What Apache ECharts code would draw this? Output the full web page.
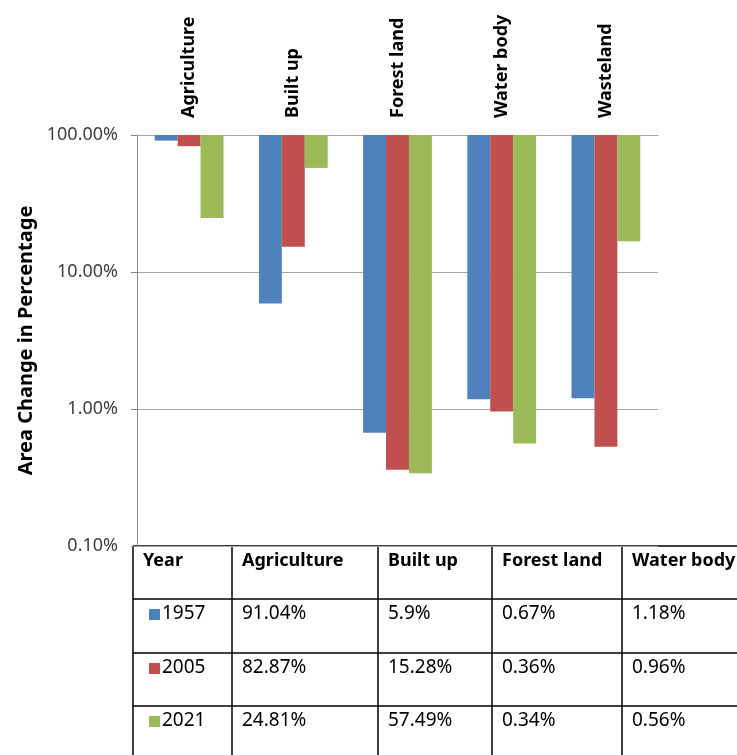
<!DOCTYPE html>
<html>
<head>
<meta charset="utf-8">
<script src="https://cdn.jsdelivr.net/npm/echarts@6/dist/echarts.min.js"></script>
<style>
  html, body { margin: 0; padding: 0; background: #fff; }
  #chart { width: 737px; height: 755px; }
</style>
</head>
<body>
<div id="chart"></div>
<script>
// land use classes
const categories = ["Agriculture", "Built up", "Forest land", "Water body", "Wasteland"];
const years = ["1957", "2005", "2021"];
// area share (%) per year
const y1957 = [91.04, 5.9, 0.67, 1.18, 1.2];
const y2005 = [82.87, 15.28, 0.36, 0.96, 0.53];
const y2021 = [24.81, 57.49, 0.34, 0.56, 16.8];
const yTicks = [0.1, 1, 10, 100];

const colors = ["#4F81BD", "#C0504D", "#9BBB59"];
const seriesData = [y1957, y2005, y2021];
const font = "Noto Sans";

// data table under the plot (column edges / row edges)
const colX = [133, 232, 378, 492, 622, 760, 900];
const rowY = [546, 599, 653, 706, 770];

function tableGraphics() {
  const els = [];
  const lineStyle = { stroke: "#000", lineWidth: 1.5 };
  rowY.forEach((y) => {
    els.push({ type: "line", shape: { x1: colX[0], y1: y, x2: colX[colX.length - 1], y2: y }, style: lineStyle });
  });
  colX.forEach((x) => {
    els.push({ type: "line", shape: { x1: x, y1: rowY[0], x2: x, y2: rowY[rowY.length - 1] }, style: lineStyle });
  });
  // header
  const header = ["Year"].concat(categories);
  header.forEach((h, i) => {
    els.push({
      type: "text", x: colX[i] + 10, y: rowY[0] + 15,
      style: { text: h, fontFamily: font, fontSize: 18, fontWeight: "bold", fill: "#000", verticalAlign: "middle" }
    });
  });
  // rows
  years.forEach((yr, r) => {
    const cy = rowY[r + 1] + 15;
    els.push({ type: "rect", shape: { x: colX[0] + 16, y: cy - 5, width: 11, height: 11 }, style: { fill: colors[r] } });
    els.push({
      type: "text", x: colX[0] + 29, y: cy,
      style: { text: yr, fontFamily: font, fontSize: 19, fill: "#000", verticalAlign: "middle" }
    });
    seriesData[r].forEach((v, c) => {
      els.push({
        type: "text", x: colX[c + 1] + 10, y: cy,
        style: { text: String(v) + "%", fontFamily: font, fontSize: 19, fill: "#000", verticalAlign: "middle" }
      });
    });
  });
  return els;
}

const chart = echarts.init(document.getElementById("chart"), null, { renderer: "canvas" });
const option = {
  animation: false,
  backgroundColor: "#fff",
  grid: { left: 137, right: 79, top: 135, bottom: 209 },
  xAxis: {
    type: "category",
    position: "top",
    data: categories,
    axisLine: { show: true, lineStyle: { color: "#a6a6a6", width: 1 } },
    axisTick: { show: false },
    axisLabel: {
      rotate: -90,
      margin: 17,
      fontFamily: font,
      fontSize: 18,
      fontWeight: "bold",
      color: "#000",
      interval: 0
    }
  },
  yAxis: {
    type: "log",
    logBase: 10,
    min: yTicks[0],
    max: yTicks[yTicks.length - 1],
    startValue: 100,
    name: "Area Change in Percentage",
    nameLocation: "middle",
    nameGap: 100,
    nameTextStyle: { fontFamily: font, fontSize: 20, fontWeight: "bold", color: "#000" },
    axisLine: { show: true, lineStyle: { color: "#868686", width: 1 } },
    axisTick: { show: true, length: 6, lineStyle: { color: "#868686" } },
    splitLine: { show: true, lineStyle: { color: "#a6a6a6", width: 1 } },
    axisLabel: {
      margin: 19,
      fontFamily: font,
      fontSize: 18,
      color: "#404040",
      formatter: (v) => Number(v).toFixed(2) + "%"
    }
  },
  series: years.map((yr, i) => ({
    name: yr,
    type: "bar",
    data: seriesData[i],
    barGap: "0%",
    barCategoryGap: "34%",
    itemStyle: { color: colors[i] }
  })),
  graphic: tableGraphics()
};
chart.setOption(option);
</script>
</body>
</html>
